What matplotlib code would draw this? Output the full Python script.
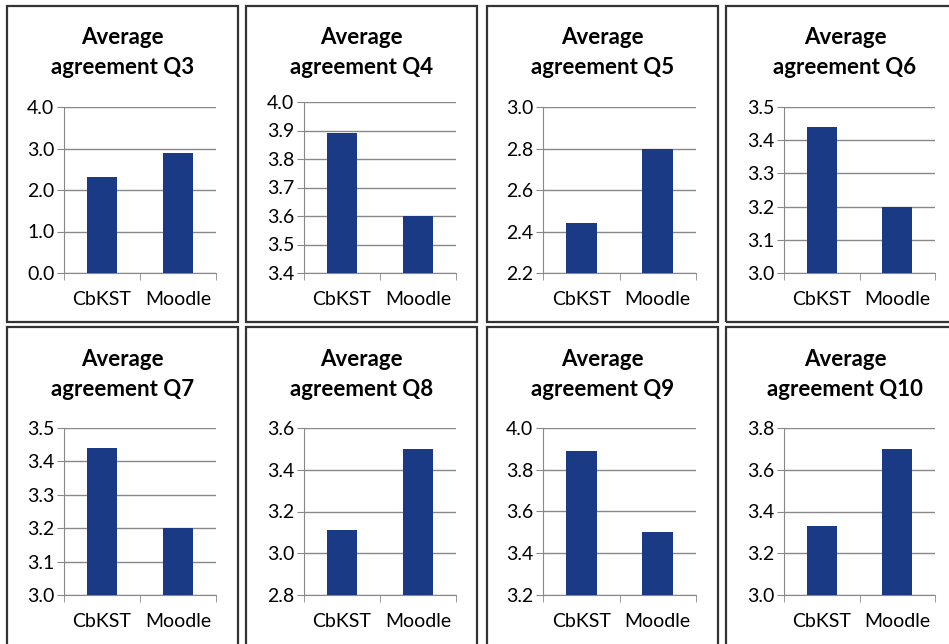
import matplotlib
matplotlib.use("Agg")
import matplotlib.pyplot as plt
from matplotlib.patches import Rectangle

plt.rcParams['font.family'] = ['Lato', 'DejaVu Sans']

categories = ['CbKST', 'Moodle']
questions = ['Q3', 'Q4', 'Q5', 'Q6', 'Q7', 'Q8', 'Q9', 'Q10']
cbkst = [2.31, 3.89, 2.44, 3.44, 3.44, 3.11, 3.89, 3.33]
moodle = [2.88, 3.60, 2.80, 3.20, 3.20, 3.50, 3.50, 3.70]
ylims = [(0.0, 4.0), (3.4, 4.0), (2.2, 3.0), (3.0, 3.5),
         (3.0, 3.5), (2.8, 3.6), (3.2, 4.0), (3.0, 3.8)]
ysteps = [1.0, 0.1, 0.2, 0.1, 0.1, 0.2, 0.2, 0.2]

bar_color = '#1b3a86'
W, H = 949, 644

fig = plt.figure(figsize=(9.49, 6.44), dpi=100)

# panel boxes (pixels): left, right ; top, bottom
box_x = [(7, 238), (246, 477), (487, 718), (726, 955)]
box_y = [(6, 322), (327, 650)]
ax_x = [(64, 216), (304, 456), (543, 696), (784, 935)]
ax_y = [(107, 273), (428, 595)]
ax_y_q4 = (102, 273)

for i, q in enumerate(questions):
    r, c = divmod(i, 4)
    bx0, bx1 = box_x[c]
    by0, by1 = box_y[r]
    fig.add_artist(Rectangle((bx0 / W, 1 - by1 / H), (bx1 - bx0) / W, (by1 - by0) / H,
                             transform=fig.transFigure, fill=False,
                             edgecolor='#333333', linewidth=1.6))

    x0, x1 = ax_x[c]
    y0, y1 = ax_y[r]
    if q == 'Q4':
        y0, y1 = ax_y_q4
    ax = fig.add_axes([x0 / W, 1 - y1 / H, (x1 - x0) / W, (y1 - y0) / H])
    ax.bar([0, 1], [cbkst[i], moodle[i]], width=0.4, color=bar_color, zorder=3)
    lo, hi = ylims[i]
    ax.set_ylim(lo, hi)
    ax.set_xlim(-0.5, 1.5)
    step = ysteps[i]
    n = int(round((hi - lo) / step))
    ticks = [lo + k * step for k in range(n + 1)]
    ax.set_yticks(ticks)
    ax.set_yticklabels(['%.1f' % t for t in ticks], fontsize=14)
    ax.set_xticks([0, 1])
    ax.set_xticklabels(categories, fontsize=14)
    ax.set_xticks([-0.5, 0.5, 1.5], minor=True)
    ax.tick_params(axis='x', which='major', length=0, pad=13)
    ax.tick_params(axis='x', which='minor', length=5, color='#888888', direction='out')
    ax.tick_params(axis='y', length=5, color='#888888', direction='out', pad=2)
    ax.grid(axis='y', color='#888888', linewidth=1.0, zorder=0)
    ax.spines['top'].set_visible(False)
    ax.spines['right'].set_visible(False)
    ax.spines['left'].set_color('#888888')
    ax.spines['bottom'].set_color('#888888')

    cx = (bx0 + min(bx1, W)) / 2
    if c == 3:
        cx = 845
    ty = 38 if r == 0 else 360
    fig.text(cx / W, 1 - ty / H, 'Average', ha='center', va='center',
             fontsize=16, fontweight='bold')
    fig.text(cx / W, 1 - (ty + 29) / H, 'agreement ' + q, ha='center', va='center',
             fontsize=16, fontweight='bold')

fig.savefig('out.png', dpi=100)
